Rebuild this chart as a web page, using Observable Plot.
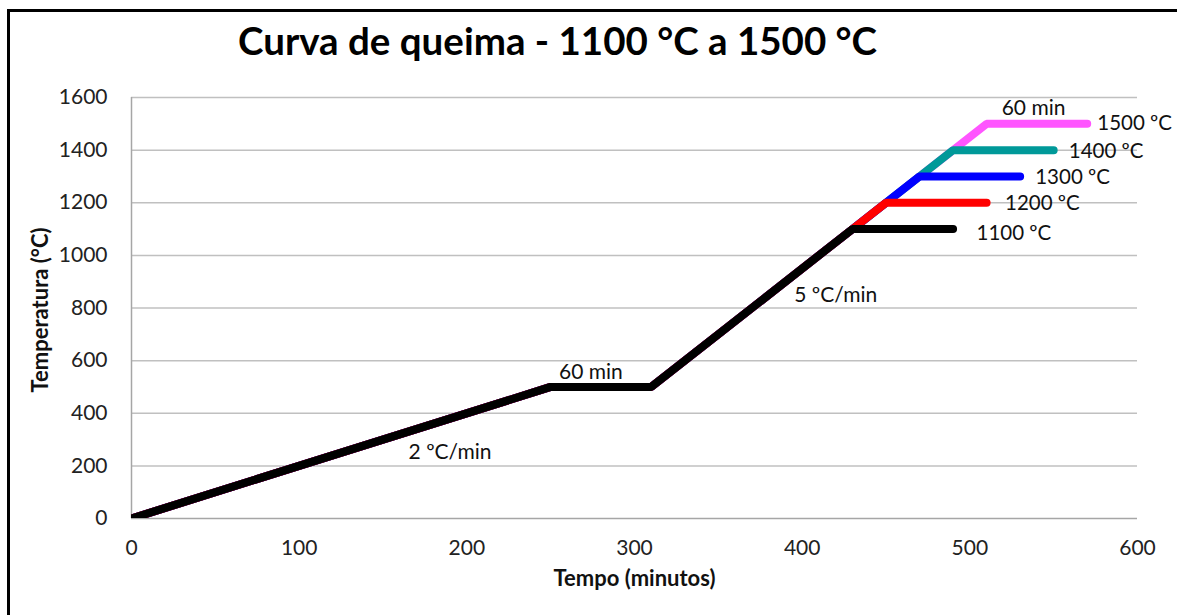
<!DOCTYPE html>
<html>
<head>
<meta charset="utf-8">
<script src="https://cdn.jsdelivr.net/npm/d3@7"></script>
<script src="https://cdn.jsdelivr.net/npm/@observablehq/plot@0.6"></script>
<style>
  html, body { margin: 0; padding: 0; background: #fff; overflow: hidden; }
  body { position: relative; width: 1177px; height: 615px; font-family: Lato, "Open Sans", sans-serif; }
  #frame { position: absolute; left: 7px; top: 9px; width: 1250px; height: 700px;
           border-top: 3px solid #000; border-left: 3px solid #000; pointer-events: none; }
  #title { height: 80px; position: relative; }
  #title span { position: absolute; left: 238px; top: 17px; font-size: 38.5px; font-weight: bold; color: #000; white-space: nowrap; }
  #chart svg { display: block; }
</style>
</head>
<body>
<div id="frame"></div>
<div id="title"><span>Curva de queima - 1100 °C a 1500 °C</span></div>
<div id="chart"></div>
<script>
// Series (time in minutes, temperature in °C)
const seriesNames = ["1100 ºC", "1200 ºC", "1300 ºC", "1400 ºC", "1500 ºC"];
const seriesColors = ["#000000", "#ff0000", "#0000ff", "#009999", "#ff55ff"];
const time1100 = [0, 250, 310, 430, 490];
const temp1100 = [0, 500, 500, 1100, 1100];
const time1200 = [0, 250, 310, 430, 450, 510];
const temp1200 = [0, 500, 500, 1100, 1200, 1200];
const time1300 = [0, 250, 310, 430, 470, 530];
const temp1300 = [0, 500, 500, 1100, 1300, 1300];
const time1400 = [0, 250, 310, 430, 490, 550];
const temp1400 = [0, 500, 500, 1100, 1400, 1400];
const time1500 = [0, 250, 310, 430, 510, 570];
const temp1500 = [0, 500, 500, 1100, 1500, 1500];

const xTicks = [0, 100, 200, 300, 400, 500, 600];
const yTicks = [0, 200, 400, 600, 800, 1000, 1200, 1400, 1600];

// Annotations
const noteText = ["2 ºC/min", "60 min", "5 ºC/min", "60 min"];
const noteX = [190, 274, 420, 538];
const noteY = [251, 555, 847, 1558];
const endLabelX = [504, 521, 539, 559, 576];
const endLabelY = [1083, 1197, 1296, 1395, 1501];

const times = [time1100, time1200, time1300, time1400, time1500];
const temps = [temp1100, temp1200, temp1300, temp1400, temp1500];
const rows = [];
for (let s = 0; s < seriesNames.length; s++) {
  times[s].forEach((t, i) => rows.push({series: seriesNames[s], t, temp: temps[s][i]}));
}
const notes = noteText.map((text, i) => ({text, x: noteX[i], y: noteY[i]}));
const endLabels = seriesNames.map((text, i) => ({text, x: endLabelX[i], y: endLabelY[i]}));

const font = "Lato, 'Open Sans', sans-serif";
const chart = Plot.plot({
  width: 1177,
  height: 535,
  marginLeft: 131,
  marginRight: 40,
  marginTop: 17,
  marginBottom: 97,
  style: {fontFamily: font, background: "#fff", color: "#222"},
  x: {domain: [0, 600], ticks: xTicks},
  y: {domain: [0, 1600], ticks: yTicks},
  color: {domain: seriesNames, range: seriesColors},
  marks: [
    Plot.ruleY(yTicks.slice(1), {stroke: "#c0c0c0", strokeWidth: 1.5}),
    Plot.ruleY([0], {stroke: "#a6a6a6", strokeWidth: 1.5}),
    Plot.ruleX([0], {stroke: "#a6a6a6", strokeWidth: 1.5}),
    Plot.axisX({ticks: xTicks, tickSize: 0, tickPadding: 22, fontSize: 21, label: null, fill: "#222", tickFormat: d => String(d)}),
    Plot.axisY({ticks: yTicks, tickSize: 0, tickPadding: 24, fontSize: 21, label: null, fill: "#222", tickFormat: d => String(d)}),
    Plot.text(["Tempo (minutos)"], {frameAnchor: "bottom", dy: 67, fontSize: 22, fontWeight: "bold", fill: "#111"}),
    Plot.text(["Temperatura (°C)"], {frameAnchor: "left", textAnchor: "middle", dx: -91, dy: 2, rotate: -90, fontSize: 22, fontWeight: "bold", fill: "#111"}),
    // highest series drawn first so the lower ones sit on top
    ...seriesNames.slice().reverse().map(name =>
      Plot.line(rows.filter(r => r.series === name), {x: "t", y: "temp", stroke: "series", strokeWidth: 8, strokeLinecap: "round", strokeLinejoin: "miter", clip: true})
    ),
    Plot.text(notes, {x: "x", y: "y", text: "text", fontSize: 21, fill: "#111"}),
    Plot.text(endLabels, {x: "x", y: "y", text: "text", textAnchor: "start", fontSize: 20.5, fill: "#111"})
  ]
});
document.getElementById("chart").appendChild(chart);
</script>
</body>
</html>
